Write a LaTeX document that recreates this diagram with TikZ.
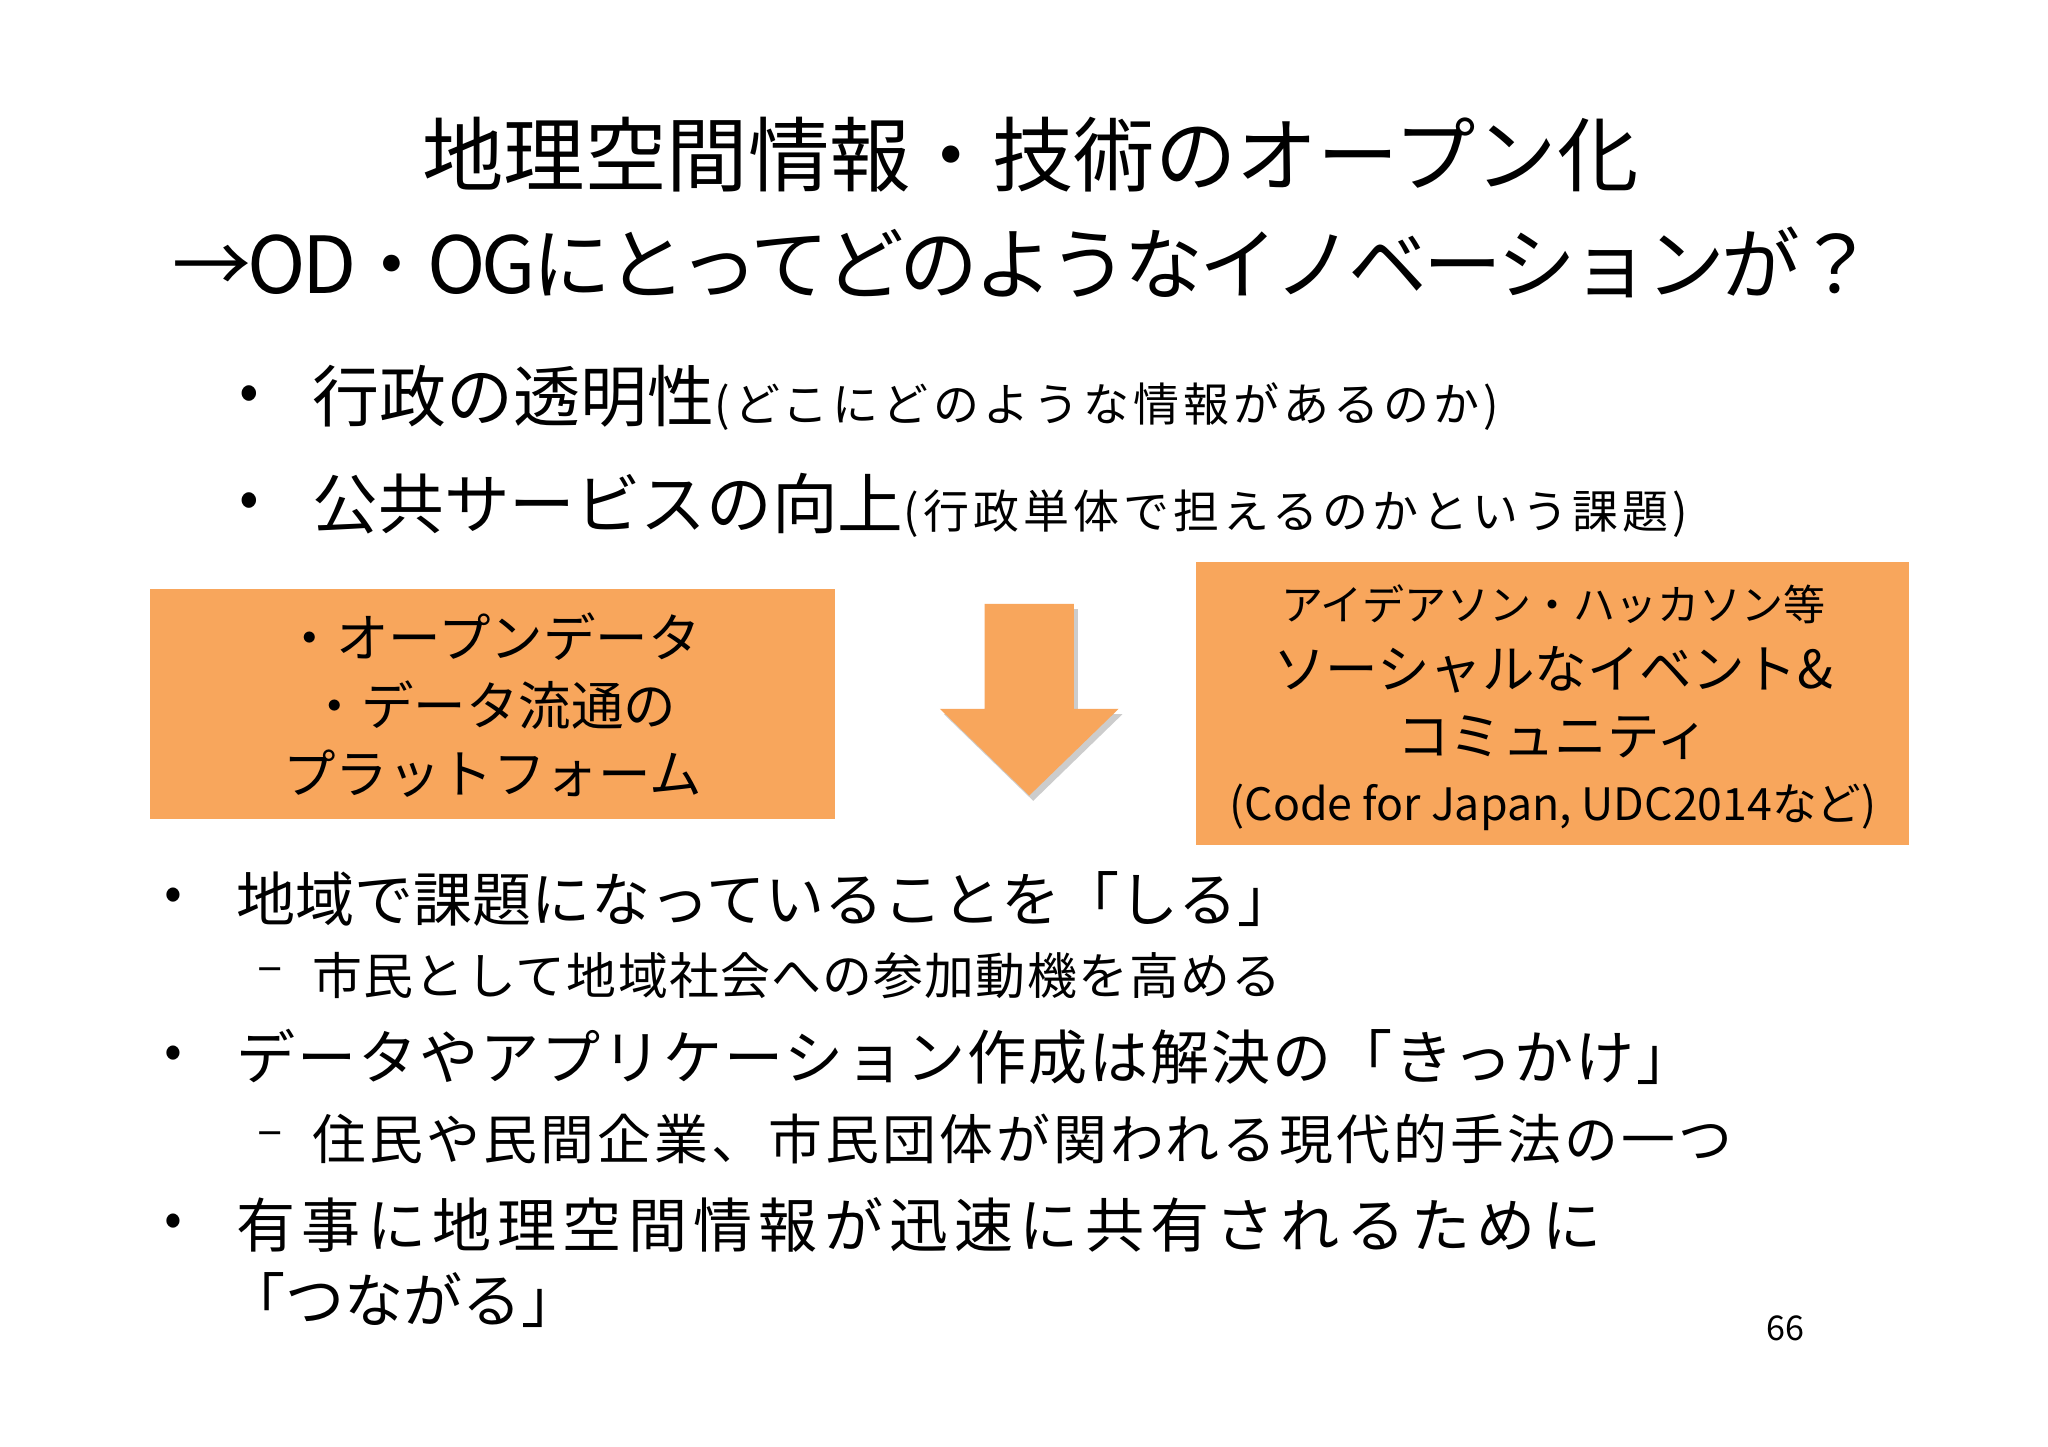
\documentclass[tikz,border=0pt]{standalone}
\usepackage{fontspec}
\setmainfont{Noto Sans CJK JP}
\definecolor{org}{HTML}{F8A65C}
\newcommand{\lsp}[1]{\addfontfeature{LetterSpace=#1}}
\begin{document}
\begin{tikzpicture}[x=1pt,y=-1pt,
  t/.style={inner sep=0pt,anchor=west},
  fs/.style={font=\fontsize{#1}{#1}\selectfont}]
\useasboundingbox (0,0) rectangle (1560,1102);
\fill[white] (0,0) rectangle (1560,1102);
\node[inner sep=0pt,fs=62] (t1) at (785,118) {地理空間情報・技術のオープン化};
\node[inner sep=0pt,fs=60] (t2) at (780,200) {\lsp{-5}→OD・OGにとってどのようなイノベーションが？};
\node[t,fs=44] (b1) at (182,303) {•};
\node[t] (b1t) at (238,303) {\fontsize{51}{51}\selectfont 行政の透明性\fontsize{35}{35}\selectfont\lsp{9} (どこにどのような情報があるのか)};
\node[t,fs=44] (b2) at (182,385) {•};
\node[t] (b2t) at (238,385) {\fontsize{50}{50}\selectfont 公共サービスの向上\fontsize{35}{35}\selectfont\lsp{9} (行政単体で担えるのかという課題)};
\fill[org] (114,449) rectangle (636,624);
\node[inner sep=0pt,fs=40,align=center] (lb) at (375,537) {・オープンデータ\\[12pt]・データ流通の\\[12pt]プラットフォーム};
\fill[black!20] (753,464) -- (821,464) -- (821,544) -- (855,544) -- (787,610) -- (719,544) -- (753,544) -- cycle;
\fill[org] (750,460) -- (818,460) -- (818,540) -- (852,540) -- (784,606) -- (716,540) -- (750,540) -- cycle;
\fill[org] (911,428) rectangle (1454,644);
\node[inner sep=0pt,fs=32] (r1) at (1183,460) {アイデアソン・ハッカソン等};
\node[inner sep=0pt,fs=40] (r2) at (1183,510) {ソーシャルなイベント\&};
\node[inner sep=0pt,fs=40] (r3) at (1183,562) {コミュニティ};
\node[inner sep=0pt,fs=34] (r4) at (1183,615) {(Code for Japan, UDC2014など)};
\node[t,fs=40] (c1) at (125,685) {•};
\node[t,fs=45] (c1t) at (180,685) {地域で課題になっていることを「しる」};
\node[t,fs=36] (d1) at (196,743) {–};
\node[t,fs=38] (d1t) at (238,743) {\lsp{2.5}市民として地域社会への参加動機を高める};
\node[t,fs=40] (c2) at (125,805) {•};
\node[t,fs=45] (c2t) at (180,805) {\lsp{3.3}データやアプリケーション作成は解決の「きっかけ」};
\node[t,fs=36] (d2) at (196,868) {–};
\node[t,fs=41] (d2t) at (238,868) {\lsp{5.9}住民や民間企業、市民団体が関われる現代的手法の一つ};
\node[t,fs=40] (c3) at (125,933) {•};
\node[t,fs=45] (c3t) at (180,933) {\lsp{10.5}有事に地理空間情報が迅速に共有されるために};
\node[t,fs=45] (c3u) at (172,990) {「つながる」};
\node[inner sep=0pt,fs=26] (pg) at (1360,1012) {66};
\end{tikzpicture}
\end{document}
